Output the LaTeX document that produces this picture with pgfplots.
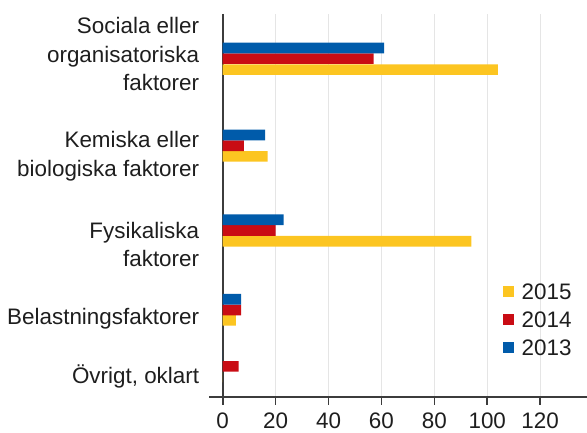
\documentclass[border=0pt]{standalone}
\usepackage{fontspec}
\setmainfont{Liberation Sans}
\usepackage{pgfplots}
\pgfplotsset{compat=1.18}
\definecolor{cBlue}{HTML}{005BAA}
\definecolor{cRed}{HTML}{C90C14}
\definecolor{cYel}{HTML}{FCC521}
\definecolor{cTxt}{HTML}{1E1E1E}
\definecolor{cAx}{HTML}{3C3C3C}
\definecolor{cGrid}{HTML}{E5E5E5}
\newcommand{\F}{\fontsize{22.5}{28.5}\selectfont}
\begin{document}
\begin{tikzpicture}
\useasboundingbox (0,0) rectangle (587bp,433bp);
\begin{axis}[
  at={(222.7bp,36.3bp)}, anchor=south west,
  scale only axis, width=364.3bp, height=382.7bp,
  xbar, bar width=10.7, bar shift=0pt,
  xmin=0, xmax=137.7, ymin=14, ymax=396.7, y dir=reverse,
  axis x line*=bottom, axis y line*=left,
  axis line style={cAx, line width=1.7bp},
  xtick={0,20,40,60,80,100,120},
  ytick={54.2,156.2,244.2,318.4,376.7},
  yticklabels={{Sociala eller\\organisatoriska\\faktorer},{Kemiska eller\\biologiska faktorer},{Fysikaliska\\faktorer},{Belastningsfaktorer},{Övrigt, oklart}},
  tick align=outside, major tick length=8bp,
  xtick style={cAx, line width=1.7bp},
  ytick style={draw=none},
  xmajorgrids, major grid style={cGrid, line width=1.3bp},
  ticklabel style={font=\F, text=cTxt},
  yticklabel style={align=right, inner sep=0pt, xshift=-15.4bp},
  xticklabel style={inner sep=0pt, anchor=north, yshift=-8.3bp},
  /pgf/number format/assume math mode=true,
  clip=false,
  legend style={draw=none, fill=none, at={(0.7703,0.2017)}, anchor=west,
    inner sep=0pt, outer sep=0pt, row sep=12.3bp, column sep=7.4bp,
    font=\F, text=cTxt,
    nodes={inner sep=0pt, text height=16bp, text depth=0pt}},
  legend cell align=left,
  legend image code/.code={\fill[#1] (0bp,-5.5bp) rectangle (11bp,5.5bp);},
]
\addplot[fill=cYel, draw=none] coordinates {(104,69.65) (17,156.35) (94,241.2) (5,320.35) (0,377.0)};
\addlegendentry{2015}
\addplot[fill=cRed, draw=none] coordinates {(57,58.65) (8,145.65) (20,230.5) (7,310.0) (6,366.35)};
\addlegendentry{2014}
\addplot[fill=cBlue, draw=none] coordinates {(61,47.95) (16,134.95) (23,219.8) (7,299.3) (0,355.65)};
\addlegendentry{2013}
\draw[cAx, line width=1.7bp] (axis cs:0,396.7) -- (axis cs:-5.18,396.7);
\end{axis}
\end{tikzpicture}
\end{document}
